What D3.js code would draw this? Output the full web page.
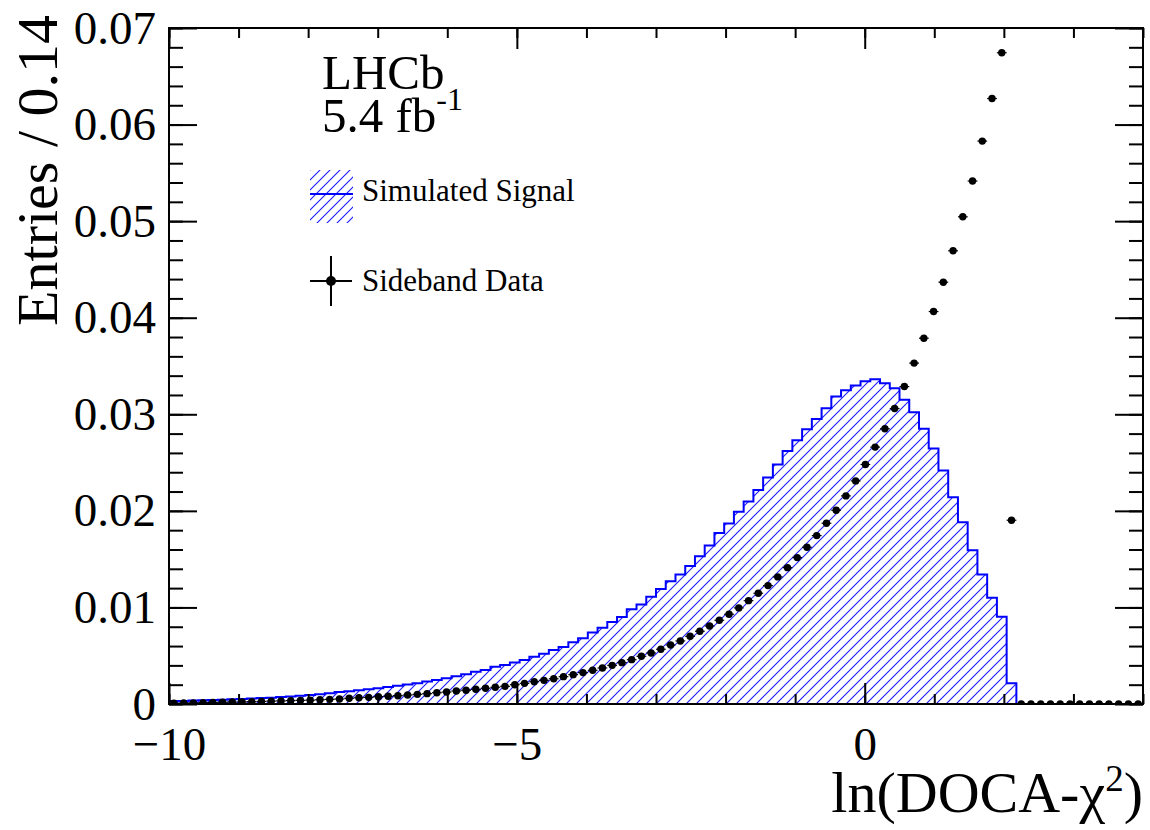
<html>
<head><meta charset="utf-8"></head>
<script src='https://d3js.org/d3.v7.min.js'></script>
<style> body {margin:0; background:white;} text {font-family: "Liberation Serif", "DejaVu Serif", serif;} </style>
<body>
<svg width=1150 height=830></svg>
<script>
// binning: 100 bins of 0.14 from -10 to 4
var binLow = -10;
var binWidth = 0.14;
var xTicksMajor = [-10, -5, 0];
var yTicksMajor = [0, 0.01, 0.02, 0.03, 0.04, 0.05, 0.06, 0.07];

// Simulated Signal (normalised histogram contents)
var signal = [
0.00030,0.00032,0.00035,0.00038,0.00041,0.00044,0.00048,0.00052,0.00056,0.00061,
0.00066,0.00072,0.00078,0.00085,0.00093,0.00102,0.00112,0.00124,0.00133,0.00143,
0.00153,0.00162,0.00176,0.00188,0.00202,0.00214,0.00233,0.00248,0.00266,0.00288,
0.00307,0.00333,0.00352,0.00385,0.00405,0.00430,0.00456,0.00490,0.00520,0.00560,
0.00590,0.00640,0.00680,0.00740,0.00790,0.00850,0.00900,0.00980,0.01030,0.01110,
0.01190,0.01270,0.01340,0.01430,0.01530,0.01640,0.01770,0.01870,0.01990,0.02096,
0.02217,0.02345,0.02480,0.02620,0.02730,0.02846,0.02952,0.03063,0.03184,0.03250,
0.03298,0.03343,0.03364,0.03322,0.03270,0.03150,0.03020,0.02850,0.02645,0.02417,
0.02141,0.01882,0.01592,0.01340,0.01100,0.00904,0.00214,0,0,0,
0,0,0,0,0,0,0,0,0,0];

// Sideband Data
var sideband = [
0.00008,0.00010,0.00012,0.00014,0.00016,0.00018,0.00020,0.00022,0.00024,0.00027,
0.00030,0.00032,0.00035,0.00038,0.00040,0.00044,0.00048,0.00052,0.00059,0.00065,
0.00069,0.00076,0.00080,0.00086,0.00093,0.00100,0.00107,0.00117,0.00124,0.00135,
0.00142,0.00152,0.00163,0.00173,0.00183,0.00200,0.00214,0.00231,0.00245,0.00262,
0.00283,0.00304,0.00325,0.00349,0.00373,0.00400,0.00428,0.00459,0.00494,0.00528,
0.00567,0.00611,0.00653,0.00701,0.00753,0.00808,0.00867,0.00929,0.00995,0.01070,
0.01147,0.01226,0.01316,0.01412,0.01516,0.01623,0.01744,0.01872,0.02006,0.02155,
0.02310,0.02480,0.02660,0.02850,0.03060,0.03287,0.03530,0.03788,0.04064,0.04368,
0.04693,0.05045,0.05415,0.05829,0.06270,0.06744,0.01903,0,0,0,
0,0,0,0,0,0,0,0,0,0];

var fLeft = 169, fRight = 1143, fTop = 28, fBottom = 704;
var svg = d3.select("svg");

var x = d3.scaleLinear().domain([-10, 4]).range([fLeft, fRight]);
var y = d3.scaleLinear().domain([0, 0.07]).range([fBottom, fTop]);

// hatch pattern (thin blue diagonals)
var defs = svg.append("defs");
var pat = defs.append("pattern").attr("id","hatch").attr("patternUnits","userSpaceOnUse")
	.attr("width",10).attr("height",10);
pat.append("rect").attr("width",10).attr("height",10).style("fill","white").style("fill-opacity",0);
pat.append("path").attr("d","M0,10 L10,0 M-2.5,2.5 L2.5,-2.5 M7.5,12.5 L12.5,7.5")
	.style("stroke","#1a1aff").style("stroke-width","1.1px").style("fill","none");

defs.append("clipPath").attr("id","frame").append("rect")
	.attr("x",fLeft).attr("y",fTop).attr("width",fRight-fLeft).attr("height",fBottom-fTop);

// signal histogram
var p = d3.path();
p.moveTo(x(binLow), y(0));
signal.forEach(function(v,i){
	p.lineTo(x(binLow+i*binWidth), y(v));
	p.lineTo(x(binLow+(i+1)*binWidth), y(v));
});
p.lineTo(x(binLow+signal.length*binWidth), y(0));
svg.append("path").attr("d", p.toString()).attr("fill","url(#hatch)")
	.attr("stroke","#0000ff").attr("stroke-width",2).attr("clip-path","url(#frame)");

// sideband data points
var g = svg.append("g").attr("clip-path","url(#frame)");
g.selectAll("line.eb").data(sideband).enter().append("line")
	.attr("x1", (d,i) => x(binLow+i*binWidth))
	.attr("x2", (d,i) => x(binLow+(i+1)*binWidth))
	.attr("y1", d => y(d)).attr("y2", d => y(d))
	.attr("stroke","black").attr("stroke-width",1.2);
g.selectAll("circle").data(sideband).enter().append("circle")
	.attr("cx", (d,i) => x(binLow+(i+0.5)*binWidth))
	.attr("cy", d => y(d)).attr("r",3.7).attr("fill","black");

// axes
var fmtY = d => d === 0 ? "0" : d3.format(".2f")(d);
var xMinor = d3.range(-10, 4.01, 1);
var yMinor = d3.range(0, 0.0701, 0.002);

function clean(sel) { sel.select(".domain").remove(); sel.selectAll("line").attr("stroke","black").attr("stroke-width",2); }

svg.append("g").attr("transform","translate(0,"+fBottom+")")
	.call(d3.axisBottom(x).tickValues(xMinor).tickSize(-10).tickFormat("")).call(clean);
svg.append("g").attr("transform","translate(0,"+fBottom+")")
	.call(d3.axisBottom(x).tickValues(xTicksMajor).tickSize(-21).tickPadding(23)).call(clean)
	.selectAll("text").attr("font-size",47).attr("fill","black").style("font-family","Liberation Serif");
svg.append("g").attr("transform","translate(0,"+fTop+")")
	.call(d3.axisTop(x).tickValues(xMinor).tickSize(-10).tickFormat("")).call(clean);
svg.append("g").attr("transform","translate(0,"+fTop+")")
	.call(d3.axisTop(x).tickValues(xTicksMajor).tickSize(-21).tickFormat("")).call(clean);

svg.append("g").attr("transform","translate("+fLeft+",0)")
	.call(d3.axisLeft(y).tickValues(yMinor).tickSize(-14).tickFormat("")).call(clean);
svg.append("g").attr("transform","translate("+fLeft+",0)")
	.call(d3.axisLeft(y).tickValues(yTicksMajor).tickSize(-28).tickPadding(13).tickFormat(fmtY)).call(clean)
	.selectAll("text").attr("font-size",47).attr("fill","black").style("font-family","Liberation Serif");
svg.append("g").attr("transform","translate("+fRight+",0)")
	.call(d3.axisRight(y).tickValues(yMinor).tickSize(-14).tickFormat("")).call(clean);
svg.append("g").attr("transform","translate("+fRight+",0)")
	.call(d3.axisRight(y).tickValues(yTicksMajor).tickSize(-28).tickFormat("")).call(clean);

// frame
svg.append("rect").attr("x",fLeft).attr("y",fTop).attr("width",fRight-fLeft).attr("height",fBottom-fTop)
	.attr("fill","none").attr("stroke","black").attr("stroke-width",2);

// titles
svg.append("text").attr("transform","translate(57,15) rotate(-90)").attr("text-anchor","end")
	.attr("font-size",58).text("Entries / 0.14");
var xt = svg.append("text").attr("x",fRight).attr("y",812).attr("text-anchor","end").attr("font-size",58);
xt.append("tspan").text("ln(DOCA-\u03c7");
xt.append("tspan").attr("font-size",37).attr("dy",-21).text("2");
xt.append("tspan").attr("dy",21).text(")");

svg.append("text").attr("x",322).attr("y",89).attr("font-size",49).text("LHCb");
var lt = svg.append("text").attr("x",322).attr("y",132).attr("font-size",49);
lt.append("tspan").text("5.4 fb");
lt.append("tspan").attr("font-size",32).attr("dy",-22).text("-1");

// legend
svg.append("rect").attr("x",310).attr("y",170).attr("width",43).attr("height",53).attr("fill","url(#hatch)");
svg.append("line").attr("x1",310).attr("x2",353).attr("y1",194).attr("y2",194).attr("stroke","#0000ff").attr("stroke-width",2);
svg.append("text").attr("x",362).attr("y",201).attr("font-size",31).text("Simulated Signal");
svg.append("line").attr("x1",331).attr("x2",331).attr("y1",256).attr("y2",306).attr("stroke","black").attr("stroke-width",2);
svg.append("line").attr("x1",310).attr("x2",352).attr("y1",281).attr("y2",281).attr("stroke","black").attr("stroke-width",2);
svg.append("circle").attr("cx",331).attr("cy",281).attr("r",5).attr("fill","black");
svg.append("text").attr("x",362).attr("y",291).attr("font-size",31).text("Sideband Data");
</script>
</body>
</html>
